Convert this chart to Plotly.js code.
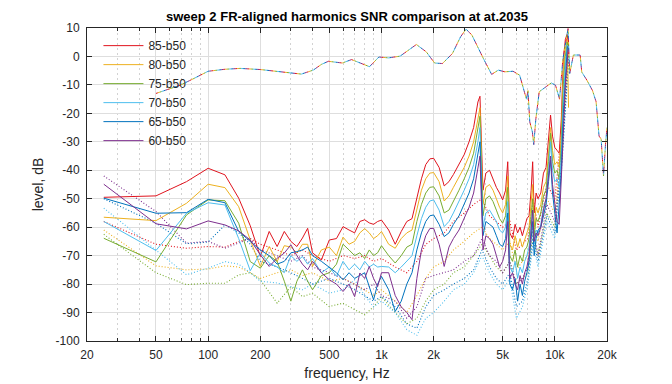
<!DOCTYPE html>
<html>
<head>
<meta charset="utf-8">
<script src="https://cdn.plot.ly/plotly-3.0.1.min.js"></script>
<style>html,body{margin:0;padding:0;background:#fff;}#chart{width:672px;height:384px;}</style>
</head>
<body>
<div id="chart"></div>
<script>
// ---------- DATA ----------
const seriesNames = ["85-b50", "80-b50", "75-b50", "70-b50", "65-b50", "60-b50"];

// frequency grid of the solid (harmonic SNR) curves, Hz
const freqH = [25,50,75,100,125,150,175,200,225,250,275,300,325,350,375,400,450,500,550,600,650,700,750,800,850,900,950,1000,1100,1200,1300,1400,1500,1600,1700,1800,1900,2000,2150,2300,2450,2600,2800,3000,3200,3400,3600,3700,3850,4000,4200,4400,4600,4800,5000,5200,5350,5500,5700,5900,6100,6300,6500,6700,6900,7100,7300,7450,7600,7800,8000,8300,8600,8900,9200,9450,9700,10000,10300,10600,10900,11200,11500,11800,12000];

const solid85 = [-49.5,-49,-44,-39.3,-41.6,-49.8,-59.5,-70.3,
  -61.5,-66.8,-61.5,-65,-66.8,-63.8,-60.4,-69,
  -71.5,-64.5,-64,-59.8,-61,-62,-58,-57.4,-58.5,-59,-58,-57.5,
  -61,-66,-61.5,-58,-57,-50,-43,-38,-36,-35.8,
  -39,-45.5,-44,-41.5,-38,-34.5,-30,-25,-16,-14,-47,-41,
  -40,-43,-46,-48,-50.4,-47,-37,-62,-64,-59,-62,-60,-63,-60,-57,-56,-47,-37,-55,-48,-50,
  -48,-41,-39,-30,-20.6,-28,-32,-33,-34,-22,-1,6,8,3];
const solid80 = [-56.5,-57.7,-51.6,-44.9,-46.1,-52.8,-64.5,-73.8,
  -66.8,-72.1,-66.5,-67,-69,-66,-66,-73.8,
  -68,-67,-70,-63.5,-66,-65,-62,-60.5,-62,-64,-63,-61.5,
  -66,-67.4,-64,-62,-61,-54,-47,-43,-41,-40.8,
  -44,-50.8,-49,-46,-42.5,-39,-35,-30,-22,-18,-52,-46,
  -45,-47,-50,-53,-55,-52,-42,-66,-68,-63,-67,-64,-67,-64,-62,-60,-52,-45,-60,-53,-55,
  -52,-46,-44,-34,-25,-33,-38,-37,-39,-27,-5,3,6,-18];
const solid75 = [-63.9,-72.2,-55.7,-50.4,-50.7,-58.6,-72.1,-74.4,
  -70,-72,-79,-86,-79,-75,-79,-82,
  -77,-76,-73,-66,-68,-70,-69,-71,-68,-70,-69,-66.5,
  -70,-72.6,-70,-67,-66,-58,-52,-48,-46,-45.8,
  -49,-55,-54,-51,-47,-43,-39,-34,-26,-21,-56,-50,
  -49,-51,-54,-57,-58.6,-56,-46,-70,-72,-68,-74,-70,-72,-68,-67,-64,-56,-50,-63,-57,-58,
  -55,-49,-47,-37,-27,-37,-41,-40,-43,-31,-10,0,5,3];
const solid70 = [-58,-68.2,-55.1,-51.4,-52.2,-64,-75.3,-69,
  -72.6,-74,-76,-70,-72,-70.3,-73,-71,
  -76,-74,-77.3,-72,-75,-73,-75,-72,-74,-73,-74,-73.8,
  -74,-76,-74,-72,-70,-63,-57,-53,-50.8,-50.4,
  -54,-59.8,-58,-55,-51,-47,-43,-38,-30,-25,-60,-55,
  -54,-56,-58,-61,-62,-60,-51,-74,-76,-72,-78,-74,-76,-72,-70,-67,-60,-54,-66,-61,-62,
  -59,-53,-50,-40,-30,-40,-44,-43,-46,-35,-15,-3,4,3];
const solid65 = [-49.8,-55.1,-54.9,-50.2,-51.4,-61.5,-65,-68,
  -70,-73,-72,-69,-68.6,-68,-67,-70,
  -72,-74,-76,-78.5,-76,-78,-77,-76,-80.9,-85.5,-80,-77.3,
  -82,-89.6,-86,-80,-76,-68,-62,-58,-56,-55.7,
  -59,-63.3,-62,-59,-56,-52,-48,-43,-35,-30,-63,-58,
  -59,-60,-63,-66,-66.8,-64,-55,-80,-82,-78,-86,-80,-84,-79,-76,-72,-64,-58,-70,-64,-61,
  -60,-56,-52,-44,-36.4,-48,-56,-62,-52,-40,-20,-6,3,4];
const solid60 = [-44.9,-58.8,-60.6,-57.8,-59.2,-61.3,-64.5,-69.7,
  -73.8,-70.9,-69.1,-66.2,-70,-73,-75,-72,
  -76,-78.5,-80,-82.6,-80,-84.4,-76.1,-78,-73.8,-78,-80.9,-76,
  -76,-84,-88,-90,-92.5,-78,-68,-63,-60.5,-60.4,
  -66,-73.8,-67,-64,-61,-57,-53,-48,-40,-35,-68,-63,
  -64,-66,-70,-74,-72,-68,-58,-78,-76,-80,-82,-77,-80,-76,-74,-70,-61,-54,-65,-62,-63,
  -60,-54,-50,-42,-35,-45,-52,-58,-59,-45,-27,-10,0,4];

// frequency grid of the dotted (noise) curves, Hz
const freqD = [25,50,75,100,125,150,175,200,250,300,350,400,500,600,700,800,900,1000,1200,1400,1600,1800,2000,2300,2600,3000,3400,3800,4200,4600,5000,5500,6000,6500,7000,7500,8000,9000,10000,11000,12000];
const dot85 = [-58,-66,-67.4,-66.8,-67,-65,-64,-66, -68,-70,-68,-70, -72,-70,-71,-70,-72,-71, -74,-76,-72,-66,-64, -62,-58,-55,-52,-50, -56,-58,-60,-58,-68,-66,-64,-50,-60, -45,-50,-25,5];
const dot80 = [-61,-73.6,-75,-74.7,-73.6,-74,-76,-78, -76,-75,-77,-76, -79,-78,-80,-82,-84,-82, -86,-90,-84,-78,-74, -72,-68,-65,-62,-60, -64,-66,-68,-65,-75,-72,-70,-58,-65, -50,-55,-30,2];
const dot75 = [-62.5,-76,-80.2,-79.7,-79.7,-76.8,-76,-78.5, -86.7,-80.9,-84.4,-83.2, -87.9,-86.7,-89,-90.8,-88,-84.4, -90,-94,-92,-86,-82, -80,-76,-74,-70,-66, -70,-74,-76,-72,-80,-78,-76,-62,-70, -55,-60,-35,0];
const dot70 = [-53.3,-68,-76.7,-74.4,-72.1,-73,-76,-79, -79.6,-80.9,-82,-80, -83.2,-82,-78.5,-84,-88,-86, -90,-96,-98,-92,-90, -86,-82,-80,-76,-70, -76,-80,-82,-78,-92,-88,-80,-66,-74, -58,-64,-38,-2];
const dot65 = [-50,-58.6,-65.8,-65.2,-59.2,-62,-66,-72, -74,-76,-78,-80, -78,-80,-82,-84,-86,-84.4, -88,-94,-95.5,-88,-84, -82,-80,-78,-75,-68, -74,-78,-80,-76,-88,-86,-78,-64,-72, -56,-62,-36,0];
const dot60 = [-42,-54.5,-65.6,-65,-67.4,-65.6,-64,-68, -70,-72,-70,-74, -76,-78,-80,-82,-80,-84, -86,-92,-88,-78,-77, -76,-75,-72,-70,-64, -70,-72,-76,-72,-80,-78,-74,-60,-70, -52,-58,-32,2];

// aligned frequency response (same for every series)
const freqFR = [50,60,69,83,100,125,153,200,259,300,345,404,450,494,540,594,672,770,853,966,1100,1280,1450,1590,1814,2024,2245,2564,2859,3075,3325,3600,3870,4320,4720,5150,5740,6270,6450,6860,7000,7170,7420,7560,7770,8130,8740,9540,10090,10650,11130,11500,11920,12190,12800,14000,14300,15300,16500,17300,18000,18500,19100,19600,20000];
const levelFR = [-13,-11.5,-10.1,-7.7,-5.2,-4.5,-4.2,-4.6,-5.4,-5.8,-6.2,-4.8,-2.8,-1.7,-1.9,-2.3,-1.1,-2.5,-3.6,-0.2,-0.5,0.1,2.5,4.2,1.6,-2.3,-2.5,1.0,6.9,9.6,7.5,3,-0.7,-6.3,-4.8,-5.4,-5.2,-6.6,-9,-15,-12,-23,-26.5,-31,-22,-12.4,-11,-9.3,-10.1,-15,-1,5,9.8,-6,0.5,0.5,-5.5,-8.3,-12,-15.9,-28,-29,-42,-31,-25];

const xTickVals = [20,50,100,200,500,1000,2000,5000,10000,20000];
const xTickText = ["20","50","100","200","500","1k","2k","5k","10k","20k"];
const xMinorVals = [30,40,60,70,80,90,300,400,600,700,800,900,3000,4000,6000,7000,8000,9000];
const yTickVals = [10,0,-10,-20,-30,-40,-50,-60,-70,-80,-90,-100];
const yTickText = ["10","0","-10","-20","-30","-40","-50","-60","-70","-80","-90","-100"];

// ---------- STYLE ----------
const colors = ["#E0141E", "#EDB120", "#77AC30", "#4DBEEE", "#0072BD", "#7E2F8E"];
const solids = [solid85, solid80, solid75, solid70, solid65, solid60];
const dots = [dot85, dot80, dot75, dot70, dot65, dot60];

const traces = [];
for (let i = 0; i < 6; i++) {
  traces.push({x: freqD, y: dots[i], type: 'scatter', mode: 'lines', showlegend: false,
    hoverinfo: 'skip', line: {color: colors[i], width: 1.1, dash: '1px,2px'}});
}
for (let i = 0; i < 6; i++) {
  traces.push({x: freqH, y: solids[i], type: 'scatter', mode: 'lines', name: seriesNames[i],
    line: {color: colors[i], width: 1}});
}
for (let i = 0; i < 6; i++) {
  const off = 2 * i;
  const dash = i === 0 ? '2px,10px' : ('0px,' + off + 'px,2px,' + (10 - off) + 'px');
  traces.push({x: freqFR, y: levelFR, type: 'scatter', mode: 'lines', showlegend: false,
    hoverinfo: 'skip', line: {color: colors[i], width: 1, dash: dash}});
}

const axisCol = '#262626';
const layout = {
  width: 672, height: 384,
  margin: {l: 87, r: 65, t: 28, b: 43, pad: 0},
  paper_bgcolor: '#ffffff', plot_bgcolor: '#ffffff',
  font: {family: 'Liberation Sans, Arial, sans-serif', size: 12, color: axisCol},
  title: {text: '<b>sweep 2 FR-aligned harmonics SNR comparison at at.2035</b>',
    font: {size: 13, color: '#000000'}, x: 0.5, xref: 'paper', xanchor: 'center',
    y: 1 - 16 / 384, yref: 'container', yanchor: 'middle'},
  showlegend: true,
  legend: {x: 0.022, y: 0.99, xanchor: 'left', yanchor: 'top', bgcolor: 'rgba(0,0,0,0)',
    borderwidth: 0, font: {size: 12, color: axisCol}, tracegroupgap: 0, itemwidth: 40},
  xaxis: {type: 'log', range: [Math.log10(20), Math.log10(20000)], tickmode: 'array',
    tickvals: xTickVals, ticktext: xTickText, ticks: 'inside', ticklen: 5, tickcolor: axisCol,
    showline: true, linecolor: axisCol, linewidth: 1, mirror: 'ticks', zeroline: false,
    showgrid: true, gridcolor: '#dedede', gridwidth: 1, ticklabelstandoff: 3,
    tickfont: {size: 12, color: axisCol},
    minor: {tickmode: 'array', tickvals: xMinorVals, ticks: 'inside', ticklen: 3, tickcolor: axisCol,
      showgrid: true, gridcolor: '#d2d2d2', gridwidth: 1, griddash: '2px,3px'},
    title: {text: 'frequency, Hz', font: {size: 14, color: axisCol}, standoff: 6},
    automargin: false},
  yaxis: {range: [-100, 10], tickmode: 'array', tickvals: yTickVals, ticktext: yTickText,
    ticks: 'inside', ticklen: 5, tickcolor: axisCol, showline: true, linecolor: axisCol,
    linewidth: 1, mirror: 'ticks', zeroline: false, showgrid: true, gridcolor: '#dedede',
    gridwidth: 1, ticklabelstandoff: 4, tickfont: {size: 12, color: axisCol},
    title: {text: 'level, dB', font: {size: 14, color: axisCol}, standoff: 8},
    automargin: false}
};

Plotly.newPlot('chart', traces, layout, {displayModeBar: false, staticPlot: true});
</script>
</body>
</html>
